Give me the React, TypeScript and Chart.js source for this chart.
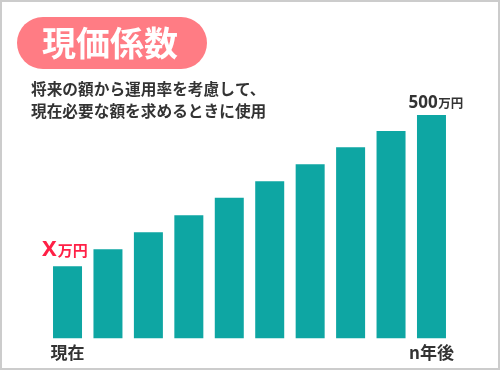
import React, { useEffect, useRef } from 'react';
import { Chart, registerables } from 'chart.js';

Chart.register(...registerables);

// ---- data ----
const categories = ['現在', '', '', '', '', '', '', '', '', 'n年後'];
const values = [162, 200, 238, 276, 315, 352, 390, 428, 464, 500];
const yMax = 500;
const titleText = '現価係数';
const subtitleLines = ['将来の額から運用率を考慮して、', '現在必要な額を求めるときに使用'];
const firstLabelMain = 'X';
const lastLabelMain = '500';
const unitText = '万円';

const JP = "'Noto Sans CJK JP', 'Noto Sans', sans-serif";
const LAT = "'Noto Sans', 'Noto Sans CJK JP', sans-serif";
const BAR_COLOR = '#0ea6a3';
const PILL_COLOR = '#ff7c84';
const RED = '#ff2046';
const DARK = '#333333';

const decorPlugin = {
  id: 'decor',
  beforeDraw(chart: any) {
    const ctx = chart.ctx as CanvasRenderingContext2D;
    const w = chart.width;
    const h = chart.height;
    ctx.save();
    ctx.fillStyle = '#ffffff';
    ctx.fillRect(0, 0, w, h);
    ctx.strokeStyle = '#cccccc';
    ctx.lineWidth = 2;
    ctx.strokeRect(1, 1, w - 2, h - 2);

    // title pill
    const px = 17, py = 17, pw = 190, ph = 52, r = 26;
    ctx.fillStyle = PILL_COLOR;
    ctx.beginPath();
    ctx.moveTo(px + r, py);
    ctx.lineTo(px + pw - r, py);
    ctx.arc(px + pw - r, py + r, r, -Math.PI / 2, Math.PI / 2);
    ctx.lineTo(px + r, py + ph);
    ctx.arc(px + r, py + r, r, Math.PI / 2, Math.PI * 1.5);
    ctx.closePath();
    ctx.fill();

    ctx.fillStyle = '#ffffff';
    ctx.font = `bold 34px ${JP}`;
    ctx.textAlign = 'center';
    ctx.textBaseline = 'middle';
    ctx.fillText(titleText, 110, 43);

    // subtitle
    ctx.fillStyle = DARK;
    ctx.font = `bold 15.7px ${JP}`;
    ctx.textAlign = 'left';
    ctx.textBaseline = 'middle';
    ctx.fillText(subtitleLines[0], 31, 89);
    ctx.fillText(subtitleLines[1], 31, 111.5);
    ctx.restore();
  },
  afterDatasetsDraw(chart: any) {
    const ctx = chart.ctx as CanvasRenderingContext2D;
    const meta = chart.getDatasetMeta(0);
    const first = meta.data[0];
    const last = meta.data[meta.data.length - 1];
    ctx.save();
    ctx.textBaseline = 'alphabetic';
    ctx.textAlign = 'left';

    // first label (red)
    ctx.fillStyle = RED;
    ctx.font = `bold 22px ${LAT}`;
    const fx = first.x - 25.5;
    const fy = first.y - 10;
    ctx.fillText(firstLabelMain, fx, fy);
    const xw = ctx.measureText(firstLabelMain).width;
    ctx.font = `bold 15px ${JP}`;
    ctx.fillText(unitText, fx + xw + 1, fy);

    // last label
    ctx.fillStyle = DARK;
    ctx.font = `bold 17px ${LAT}`;
    const lx = last.x - 23;
    const ly = last.y - 7.5;
    ctx.fillText(lastLabelMain, lx, ly);
    const nw = ctx.measureText(lastLabelMain).width;
    ctx.font = `bold 12.5px ${JP}`;
    ctx.fillText(unitText, lx + nw + 0.5, ly);
    ctx.restore();
  },
};

export default function App() {
  const ref = useRef<HTMLCanvasElement>(null);
  useEffect(() => {
    if (!ref.current) return;
    const chart = new Chart(ref.current, {
      type: 'bar',
      data: {
        labels: categories,
        datasets: [
          {
            data: values,
            backgroundColor: BAR_COLOR,
            borderWidth: 0,
            barPercentage: 0.717,
            categoryPercentage: 1,
          },
        ],
      },
      options: {
        animation: false,
        responsive: false,
        devicePixelRatio: 1,
        layout: { padding: { left: 47.3, right: 48.3, top: 115, bottom: 3 } },
        plugins: { legend: { display: false }, tooltip: { enabled: false } },
        scales: {
          x: {
            grid: { display: false, drawTicks: false },
            border: { display: false },
            ticks: {
              color: DARK,
              font: { family: JP, size: 17, weight: 'bold' },
              padding: 4,
              autoSkip: false,
              maxRotation: 0,
            },
          },
          y: { display: false, min: 0, max: yMax },
        },
      },
      plugins: [decorPlugin],
    });
    return () => chart.destroy();
  }, []);
  return (
    <div style={{ position: 'fixed', left: 0, top: 0, width: 500, height: 370 }}>
      <canvas ref={ref} width={500} height={370} style={{ display: 'block', width: 500, height: 370 }} />
    </div>
  );
}
